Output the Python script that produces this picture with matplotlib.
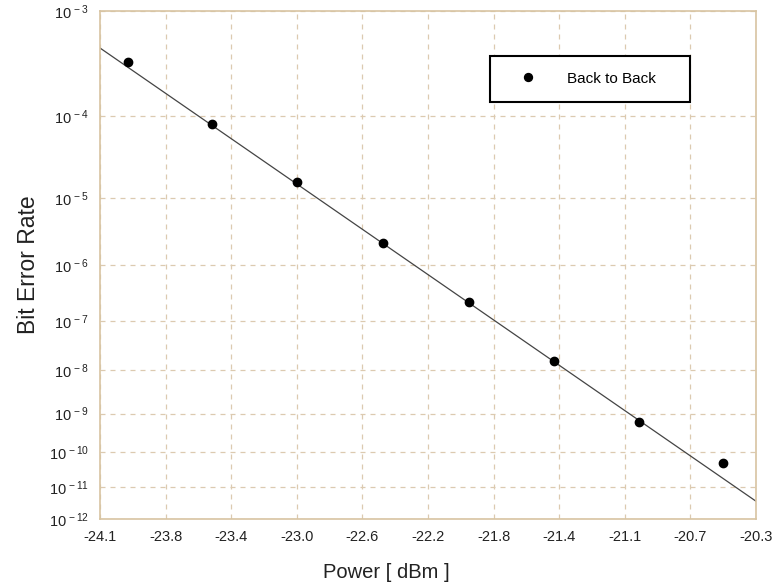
import numpy as np
import matplotlib
matplotlib.use("Agg")
import matplotlib.pyplot as plt

# ---- data ----
power_dbm = [-23.94, -23.45, -22.96, -22.46, -21.96, -21.47, -20.98, -20.49]
ber = [3.59e-4, 8.26e-5, 1.63e-5, 2.21e-6, 2.28e-7, 1.61e-8, 6.05e-10, 4.91e-11]
fit_power = [-24.1, -20.3]
fit_ber = [4.8e-4, 3.7e-12]
x_tick_labels = ["-24.1", "-23.8", "-23.4", "-23.0", "-22.6", "-22.2",
                 "-21.8", "-21.4", "-21.1", "-20.7", "-20.3"]
y_exponents = [-3, -4, -5, -6, -7, -8, -9, -10, -11, -12]
series_name = "Back to Back"

plt.rcParams['font.family'] = ['Liberation Sans', 'DejaVu Sans']
plt.rcParams['mathtext.fontset'] = 'custom'
plt.rcParams['mathtext.rm'] = 'Liberation Sans'
plt.rcParams['mathtext.it'] = 'Liberation Sans'
plt.rcParams['mathtext.default'] = 'regular'


def fwd(y):
    y = np.clip(np.asarray(y, dtype=float), 1e-300, 1 - 1e-15)
    return -np.log10(-np.log10(y))


def inv(u):
    u = np.asarray(u, dtype=float)
    return 10.0 ** (-(10.0 ** (-u)))


fig = plt.figure(figsize=(7.77, 5.87), dpi=100)
ax = fig.add_axes([100 / 777, 1 - 519 / 587, 656 / 777, 508 / 587])

ax.set_yscale('function', functions=(fwd, inv))
ax.set_xlim(-24.1, -20.3)
ax.set_ylim(1e-12, 1e-3)

grid_color = '#dccab0'
spine_color = '#d8c4a2'

ax.plot(fit_power, fit_ber, color='#444444', lw=0.9, zorder=2)
ax.plot(power_dbm, ber, linestyle='none', marker='o', ms=6, color='black',
        label=series_name, zorder=3)

xt = np.linspace(-24.1, -20.3, len(x_tick_labels))
ax.set_xticks(xt)
ax.set_xticklabels(x_tick_labels)
yt = [10.0 ** e for e in y_exponents]
ax.set_yticks(yt)
ax.set_yticklabels([r'$10^{\,%d}$' % e for e in y_exponents])
ax.minorticks_off()
ax.tick_params(axis='both', length=0, labelsize=10.5, colors='#222222')
ax.tick_params(axis='x', pad=8)
ax.tick_params(axis='y', pad=8)

ax.grid(True, color=grid_color, linestyle=(0, (4, 4)), linewidth=0.9)
for s in ax.spines.values():
    s.set_color(spine_color)
    s.set_linewidth(1.2)

ax.set_xlabel('Power [ dBm ]', fontsize=14.5, color='#222222', labelpad=12)
ax.xaxis.set_label_coords((386 - 100) / 656, -0.086)
ax.set_ylabel('Bit Error Rate', fontsize=16.5, color='#222222', labelpad=6)

leg = ax.legend(loc='center', bbox_to_anchor=(0.5945, 0.821, 0.3045, 0.092),
                mode='expand', fontsize=11, frameon=True, fancybox=False,
                shadow=False, borderpad=1.05, handletextpad=1.1,
                handlelength=2.9, markerscale=0.95, borderaxespad=0)
fr = leg.get_frame()
fr.set_edgecolor('black')
fr.set_linewidth(1.5)
fr.set_facecolor('white')
fr.set_alpha(1)

fig.savefig('out.png', dpi=100)
